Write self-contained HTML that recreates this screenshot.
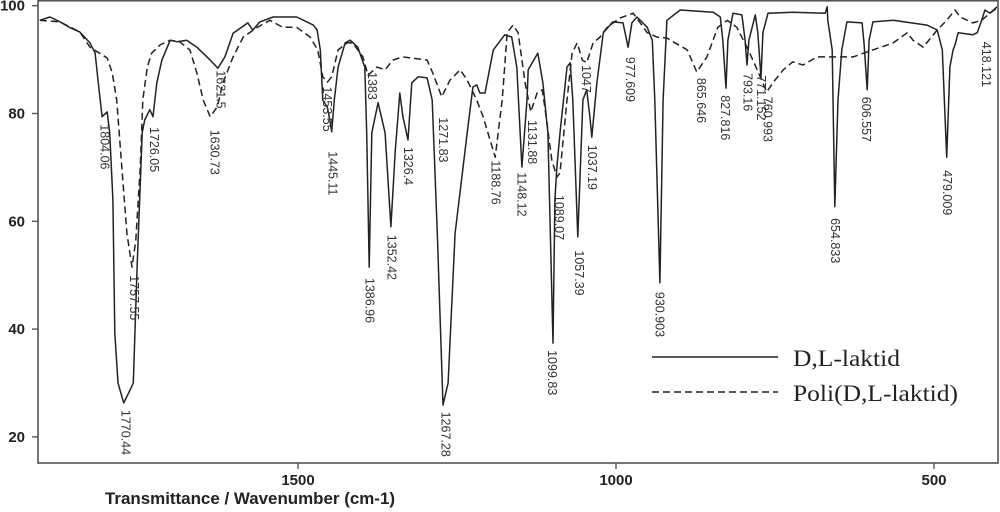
<!DOCTYPE html>
<html>
<head>
<meta charset="utf-8">
<style>
  html,body{margin:0;padding:0;background:#fff;}
  svg{display:block;}
</style>
</head>
<body>
<svg id="chart" width="1000" height="512" viewBox="0 0 1000 512" xmlns="http://www.w3.org/2000/svg">
  <rect x="0" y="0" width="1000" height="512" fill="#fff"/>
  <g id="plot"></g>
  <g id="axes"></g>
  <g id="labels"></g>
  <g id="legend">
    <line x1="652" y1="357" x2="778" y2="357" stroke="#222" stroke-width="1.6"/>
    <text x="793" y="366" font-family="Liberation Serif, serif" font-size="23" textLength="107" lengthAdjust="spacingAndGlyphs" fill="#222">D,L-laktid</text>
    <line x1="652" y1="392" x2="778" y2="392" stroke="#222" stroke-width="1.6" stroke-dasharray="7,4"/>
    <text x="793" y="401" font-family="Liberation Serif, serif" font-size="23" textLength="165" lengthAdjust="spacingAndGlyphs" fill="#222">Poli(D,L-laktid)</text>
  </g>
  <text x="105" y="504" textLength="290" lengthAdjust="spacingAndGlyphs" font-family="Liberation Sans, sans-serif" font-size="16.5" font-weight="bold" fill="#222">Transmittance / Wavenumber (cm-1)</text>
</svg>
<script>
// ---- data ----
const solidWn = [1906,1890,1874,1858,1843,1827,1819,1814,1808,1800,1796,1791,1788,1783,1774,1764,1759,1753,1745,1741,1733,1728,1722,1714,1701,1690,1675,1659,1638,1626,1615,1602,1579,1571,1560,1539,1502,1476,1470,1465,1461,1454,1451,1447,1443,1437,1426,1418,1406,1395,1392,1388,1384,1374,1363,1354,1347,1340,1335,1327,1321,1311,1297,1289,1281,1272,1264,1253,1234,1225,1219,1214,1206,1193,1175,1164,1156,1148,1140,1138,1123,1115,1107,1099,1096,1093,1088,1077,1072,1068,1060,1052,1046,1041,1038,1030,1020,1005,989,981,975,967,951,943,939,931,926,920,899,847,836,832,827,824,816,802,797,794,791,781,777,772,769,761,722,671,668,667,660,656,651,645,637,613,610,605,602,596,564,511,495,487,480,475,470,467,462,439,432,425,420,412,401];
const solidT = [97.3,97.9,97.0,95.9,95.1,93.1,91.2,85.7,79.4,80.3,76.4,64.0,39.3,30.0,26.3,28.7,30.0,51.5,76.4,78.8,80.7,79.4,85.7,89.9,93.6,93.3,93.6,92.3,89.9,88.4,90.5,94.9,96.8,95.5,97.0,97.9,97.9,96.4,95.5,91.8,82.5,81.2,79.4,76.6,82.5,88.6,93.1,93.6,92.3,88.6,76.4,51.5,76.4,82.0,76.4,59.0,73.2,83.8,79.4,75.1,85.7,86.8,86.6,82.5,57.8,25.9,30.0,57.8,76.4,84.9,85.3,83.8,83.8,91.8,94.6,94.2,88.6,70.1,82.5,88.1,91.2,85.7,76.4,37.4,64.0,70.1,76.4,88.6,89.4,82.5,57.1,82.5,84.4,79.4,75.6,85.7,95.0,97.0,96.8,92.3,96.8,97.9,96.0,93.6,82.5,48.6,82.5,97.3,99.2,98.8,97.9,93.6,84.7,93.6,98.6,98.3,93.6,89.0,93.6,98.3,95.0,86.6,95.0,98.6,98.8,98.6,99.8,97.3,91.8,62.7,82.5,91.8,97.0,96.8,93.1,84.4,93.6,97.0,97.3,96.4,95.5,91.8,71.9,88.6,91.8,92.7,95.0,94.6,95.0,97.3,99.2,98.6,99.8];
const dashWn = [1906,1874,1843,1827,1800,1792,1785,1777,1769,1761,1755,1748,1744,1737,1730,1717,1701,1686,1670,1659,1649,1638,1627,1618,1602,1586,1564,1544,1524,1502,1481,1469,1461,1454,1447,1437,1423,1414,1398,1390,1376,1363,1351,1335,1297,1288,1274,1261,1245,1234,1219,1209,1190,1179,1171,1162,1154,1143,1134,1124,1116,1112,1101,1093,1088,1077,1069,1061,1053,1046,1036,1025,1014,994,973,962,951,936,920,910,888,873,857,840,825,810,792,778,763,750,737,722,706,684,627,596,564,542,533,517,495,480,467,459,439,425,412,401];
const dashT = [97.3,97.0,95.1,92.3,90.3,87.5,82.5,70.1,57.8,51.5,56.5,70.1,82.5,88.6,91.2,92.7,93.6,93.3,91.8,87.5,82.5,79.4,81.2,85.7,90.5,94.2,96.0,97.3,96.0,96.0,94.2,91.8,86.8,85.8,86.8,91.8,93.1,93.1,90.5,87.1,88.6,88.1,89.9,90.5,89.9,87.5,83.1,86.2,88.1,86.2,82.5,79.4,71.9,82.5,95.0,96.4,95.0,85.7,80.3,83.8,84.4,81.2,71.4,68.2,69.0,82.5,91.2,93.1,89.9,89.4,93.1,94.2,96.0,97.7,98.6,96.8,95.0,94.2,94.0,93.3,91.8,87.7,90.5,96.0,97.3,96.0,91.8,88.1,84.0,86.2,88.1,89.6,89.0,90.5,90.5,91.8,93.1,95.0,93.6,92.3,95.5,97.3,99.2,97.9,96.8,97.3,98.6,99.6];
const yTicks = [100,80,60,40,20];
const xTicks = [1500,1000,500];
const peakNames = ["1804.06","1770.44","1757.55","1726.05","1630.73","1621.5","1453.55","1445.11","1383","1386.96","1352.42","1326.4","1271.83","1267.28","1188.76","1148.12","1131.88","1099.83","1089.07","1057.39","1047","1037.19","977.609","930.903","865.646","827.816","793.16","771.152","760.993","654.833","606.557","479.009","418.121"];
const peakWn = [1804.06,1770.44,1757.55,1726.05,1630.73,1621.5,1453.55,1445.11,1383,1386.96,1352.42,1326.4,1271.83,1267.28,1188.76,1148.12,1131.88,1099.83,1089.07,1057.39,1047,1037.19,977.609,930.903,865.646,827.816,793.16,771.152,760.993,654.833,606.557,479.009,418.121];
const peakLabelT = [78.0,25.0,50.0,77.5,77.0,88.0,85.0,73.0,87.7,49.5,57.5,73.8,79.3,24.7,71.3,69.1,78.8,36.1,64.9,54.6,89.0,74.2,90.5,46.9,86.6,83.4,87.5,87.1,83.1,60.6,83.1,69.5,93.3];

// ---- scales ----
const X0 = 38, X1 = 998, Y0 = 0, Y1 = 463;
function xs(wn){ return 616 + (1000 - wn) * 0.636; }
function ys(t){ return 113.5 - (t - 80) * 5.39; }
const NS = "http://www.w3.org/2000/svg";
const plot = document.getElementById('plot');
const axes = document.getElementById('axes');
const labels = document.getElementById('labels');

function mkPath(wns, ts, dash, name){
  let d = '';
  for (let i = 0; i < wns.length; i++){
    d += (i ? 'L' : 'M') + xs(wns[i]).toFixed(1) + ',' + ys(ts[i]).toFixed(1);
  }
  const p = document.createElementNS(NS, 'path');
  p.setAttribute('d', d);
  p.setAttribute('fill', 'none');
  p.setAttribute('stroke', '#222');
  p.setAttribute('stroke-width', '1.5');
  p.setAttribute('stroke-linejoin', 'round');
  if (dash) p.setAttribute('stroke-dasharray', dash);
  
  
  plot.appendChild(p);
}
mkPath(dashWn, dashT, '7,4', 'series-poli-dl-laktid');
mkPath(solidWn, solidT, null, 'series-dl-laktid');

// frame
const frame = document.createElementNS(NS, 'rect');
frame.setAttribute('x', X0); frame.setAttribute('y', Y0 + 0.8);
frame.setAttribute('width', X1 - X0); frame.setAttribute('height', Y1 - Y0 - 0.8);
frame.setAttribute('fill', 'none'); frame.setAttribute('stroke', '#555'); frame.setAttribute('stroke-width', '1.6');


axes.appendChild(frame);

yTicks.forEach(v => {
  const y = ys(v);
  const l = document.createElementNS(NS, 'line');
  l.setAttribute('x1', X0 - 6); l.setAttribute('x2', X0); l.setAttribute('y1', y); l.setAttribute('y2', y);
  l.setAttribute('stroke', '#555'); l.setAttribute('stroke-width', '1.4');
  
  
  axes.appendChild(l);
  const t = document.createElementNS(NS, 'text');
  t.setAttribute('x', 25); t.setAttribute('y', y + 5);
  t.setAttribute('text-anchor', 'end');
  t.setAttribute('font-family', 'Liberation Sans, sans-serif');
  t.setAttribute('font-size', '15'); t.setAttribute('font-weight', 'bold'); t.setAttribute('fill', '#222');
  t.textContent = v;
  
  
  axes.appendChild(t);
});
xTicks.forEach(v => {
  const x = xs(v);
  const l = document.createElementNS(NS, 'line');
  l.setAttribute('x1', x); l.setAttribute('x2', x); l.setAttribute('y1', Y1); l.setAttribute('y2', Y1 + 6);
  l.setAttribute('stroke', '#555'); l.setAttribute('stroke-width', '1.4');
  
  
  axes.appendChild(l);
  const t = document.createElementNS(NS, 'text');
  t.setAttribute('x', x); t.setAttribute('y', 485);
  t.setAttribute('text-anchor', 'middle');
  t.setAttribute('font-family', 'Liberation Sans, sans-serif');
  t.setAttribute('font-size', '15'); t.setAttribute('font-weight', 'bold'); t.setAttribute('fill', '#222');
  t.textContent = v;
  
  
  axes.appendChild(t);
});

// peak labels (rotated 90deg clockwise, reading downward)
peakNames.forEach((s, i) => {
  const x = xs(peakWn[i]), y = ys(peakLabelT[i]);
  const t = document.createElementNS(NS, 'text');
  t.setAttribute('transform', 'translate(' + (x - 4.3).toFixed(1) + ',' + y.toFixed(1) + ') rotate(90)');
  t.setAttribute('font-family', 'Liberation Sans, sans-serif');
  t.setAttribute('font-size', '12.5'); t.setAttribute('fill', '#333');
  t.textContent = s;
  
  
  labels.appendChild(t);
});
</script>
</body>
</html>
